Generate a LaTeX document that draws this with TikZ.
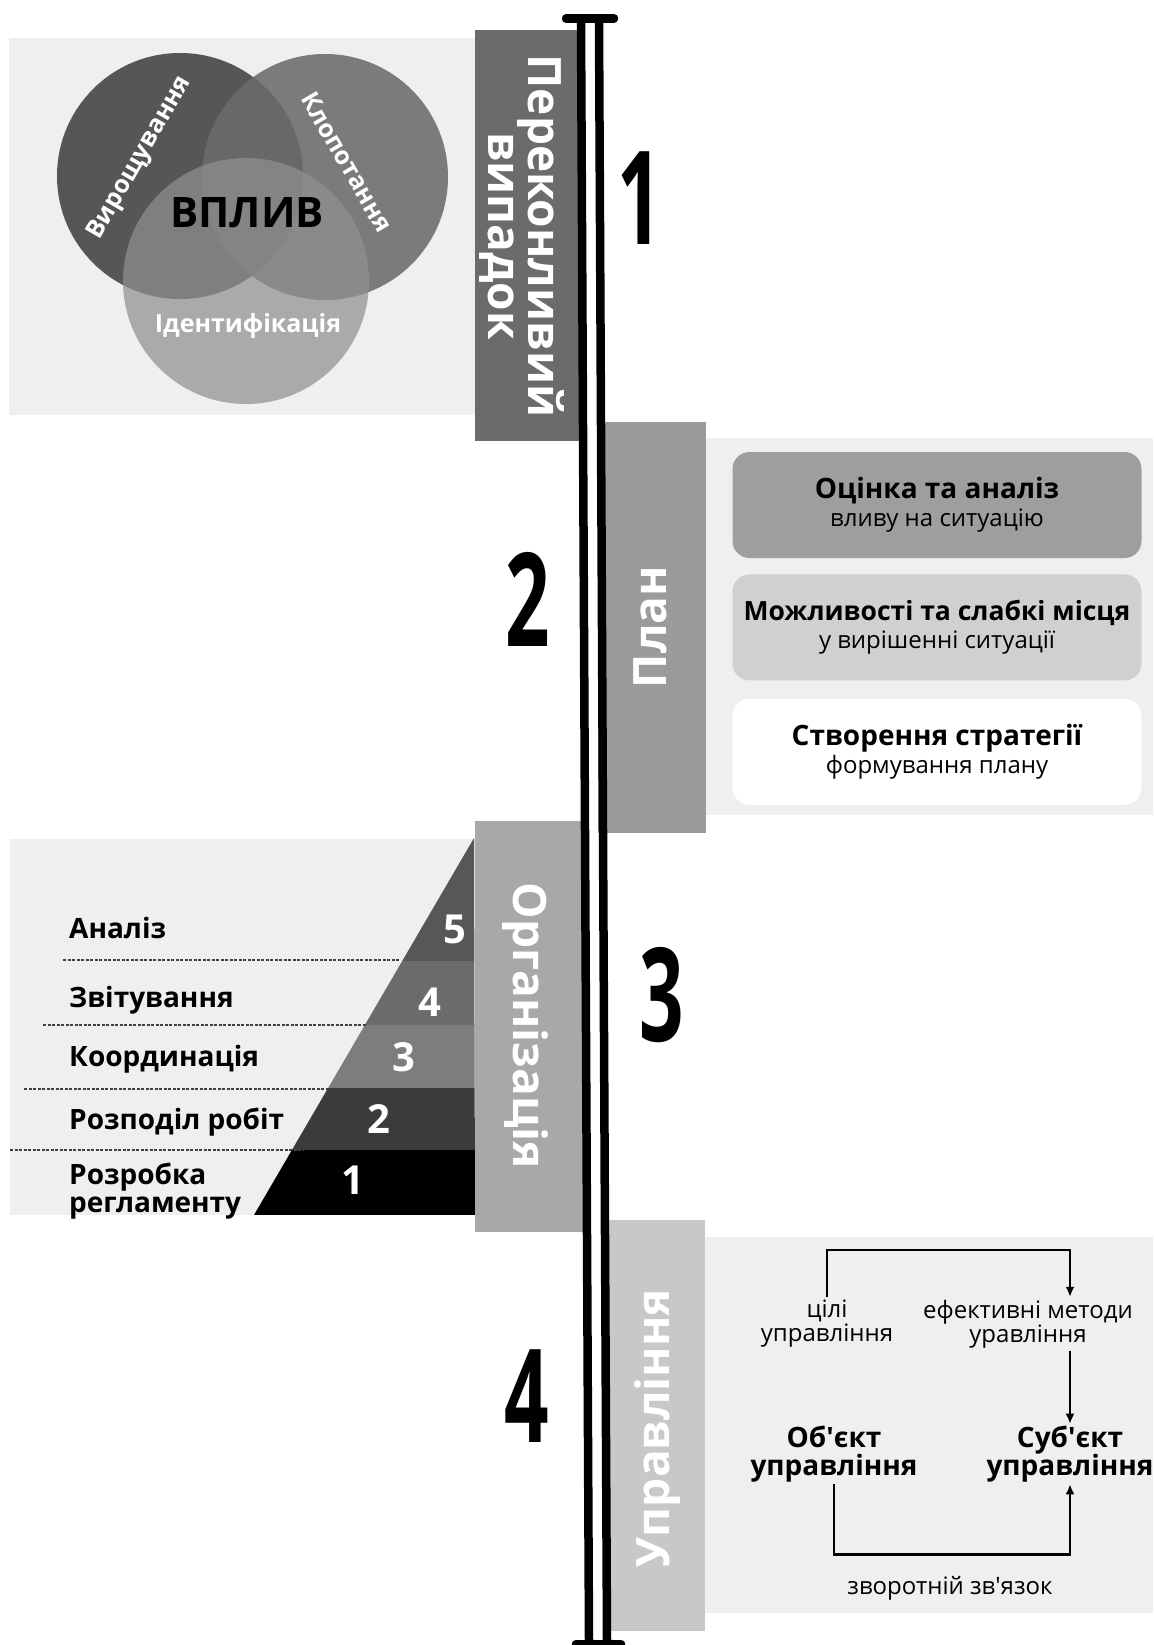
\documentclass[tikz,border=0pt]{standalone}
\usepackage{fontspec}
\setmainfont{Open Sans}
\usetikzlibrary{arrows.meta,positioning}

\definecolor{fongray}{RGB}{239,239,239}
\definecolor{bar1}{RGB}{107,107,107}
\definecolor{bar2}{RGB}{155,155,155}
\definecolor{bar3}{RGB}{168,168,168}
\definecolor{bar4}{RGB}{200,200,200}
\definecolor{venna}{RGB}{86,86,86}
\definecolor{vennb}{RGB}{107,107,107}
\definecolor{vennc}{RGB}{144,144,144}
\definecolor{box1}{RGB}{158,158,158}
\definecolor{box2}{RGB}{208,208,208}
\definecolor{lvlb}{RGB}{59,59,59}
\definecolor{lvlc}{RGB}{125,125,125}
\definecolor{lvld}{RGB}{107,107,107}
\definecolor{lvle}{RGB}{87,87,87}

\begin{document}
\begin{tikzpicture}[x=1pt,y=-1pt,
  bartitle/.style={text=white,font=\fontsize{46}{40}\selectfont\bfseries,align=center,inner sep=0pt},
  bignum/.style={font=\fontsize{130}{130}\selectfont\bfseries,inner sep=0pt},
  venntext/.style={text=white,font=\fontsize{25}{25}\selectfont\bfseries,inner sep=0pt},
  planbox/.style={rounded corners=17pt,minimum width=409pt,minimum height=106pt,inner sep=0pt,align=center,font=\fontsize{24}{28}\selectfont},
  pyrlabel/.style={anchor=west,font=\fontsize{28}{28}\selectfont\bfseries,align=left,text height=20pt,text depth=6pt,inner sep=0pt},
  pyrnum/.style={text=white,font=\fontsize{40}{40}\selectfont\bfseries,inner sep=0pt},
  sep/.style={draw=black!75,line width=1.2pt,dash pattern=on 3pt off 1.5pt},
  flowtext/.style={font=\fontsize{24}{24}\selectfont,align=center,inner sep=3pt},
  flowbold/.style={font=\fontsize{28}{28}\selectfont\bfseries,align=center,inner sep=2pt},
  flow/.style={line width=2.5pt,-{Latex[length=10pt,width=9pt]}},
  rail/.style={line width=8.5pt}
]
\useasboundingbox (0,0) rectangle (1153,1645);

% фон
\fill[fongray] (9,38) rectangle (475,415);
\fill[fongray] (706,438) rectangle (1153,815);
\fill[fongray] (10,839) rectangle (475,1215);
\fill[fongray] (705,1237) rectangle (1153,1613);

% круги
\fill[venna] (180,176) circle (123);
\fill[vennb,fill opacity=0.88] (325,177) circle (123);
\fill[vennc,fill opacity=0.72] (246,281) circle (123);

\node[venntext,rotate=60] (grow) at (140,158) {Вирощування};
\node[venntext,rotate=-60] (petition) at (347,162) {Клопотання};
\node[font=\fontsize{42}{42}\selectfont\bfseries,inner sep=0pt] (impact) at (247,213) {ВПЛИВ};
\node[venntext,font=\fontsize{25}{25}\selectfont\bfseries] (ident) at (248,326) {Ідентифікація};

% пирамида
\begin{scope}
  \clip (474,838) -- (254,1215) -- (475,1215) -- cycle;
  \foreach \ya/\yb/\c in {838/961/lvle,961/1025/lvld,1025/1088/lvlc,1088/1150/lvlb,1150/1215/black}
    \fill[\c] (250,\ya) rectangle (476,\yb);
\end{scope}

% пунктир
\foreach \xa/\xb/\y in {63/400/960,43/366/1025,24/333/1089,10/304/1150}
  \draw[sep] (\xa,\y) -- (\xb,\y);

% номера уровней
\foreach \n/\x/\y in {5/455/929,4/430/1002,3/404/1057,2/379/1119,1/353/1180}
  \node[pyrnum] (lvl\n) at (\x,\y) {\n};

% подписи уровней
\foreach \n/\y/\t in {5/931/Аналіз,4/1000/Звітування,3/1059/Координація,2/1122/Розподіл робіт}
  \node[pyrlabel] (lab\n) at (69,\y) {\t};
\node[pyrlabel] (lab1) at (69,1205) {Розробка\\регламенту};

% полосы
\fill[bar1] (475,30) rectangle (585,441);
\fill[bar2] (598,422) rectangle (706,833);
\fill[bar3] (475,821) rectangle (588,1232);
\fill[bar4] (606,1220) rectangle (705,1631);

\node[bartitle,rotate=-90] (case) at (522,236) {Переконливий\\випадок};
\node[bartitle,rotate=90] (plan) at (650,627) {План};
\node[bartitle,rotate=-90] (org) at (525,1026) {Організація};
\node[bartitle,rotate=90] (mgmt) at (658,1428) {Управління};

% цифры
\node[bignum] (num1) at (640,198) {\scalebox{0.6}[1]{1}};
\node[bignum] (num2) at (528,599) {\scalebox{0.6}[1]{2}};
\node[bignum] (num3) at (662,995) {\scalebox{0.6}[1]{3}};
\node[bignum] (num4) at (527,1396) {\scalebox{0.6}[1]{4}};

% двойная линия
\draw[rail] (581,22) -- (589,1641);
\draw[rail] (599,22) -- (607,1641);
\draw[rail,line cap=round] (566,18.5) -- (614,18.5);
\draw[rail,line cap=round] (576,1644) -- (621,1644);

% план
\node[planbox,fill=box1] (plan1) at (937,505)
  {{\fontsize{28}{28}\selectfont\bfseries Оцінка та аналіз}\\вливу на ситуацію};
\node[planbox,fill=box2,below=16pt of plan1] (plan2)
  {{\fontsize{26.5}{28}\selectfont\bfseries Можливості та слабкі місця}\\у вирішенні ситуації};
\node[planbox,fill=white,below=18pt of plan2] (plan3)
  {{\fontsize{28}{28}\selectfont\bfseries Створення стратегії}\\формування плану};

% управление
\node[flowtext] (goals) at (827,1324) {цілі\\управління};
\node[flowtext] (methods) at (1028,1324) {ефективні методи\\уравління};
\node[flowbold] (obj) at (834,1454) {Об\textquotesingle єкт\\управління};
\node[flowbold] (subj) at (1070,1454) {Суб\textquotesingle єкт\\управління};
\node[flowtext] (feedback) at (950,1588) {зворотній зв\textquotesingle язок};

\draw[flow] (goals.north) -- ++(0,-47) -| (subj.center |- methods.north);
\draw[flow] (methods.south -| subj.center) -- (subj.north);
\draw[flow] (obj.south) -- ++(0,70) -| (subj.south);

\end{tikzpicture}
\end{document}
